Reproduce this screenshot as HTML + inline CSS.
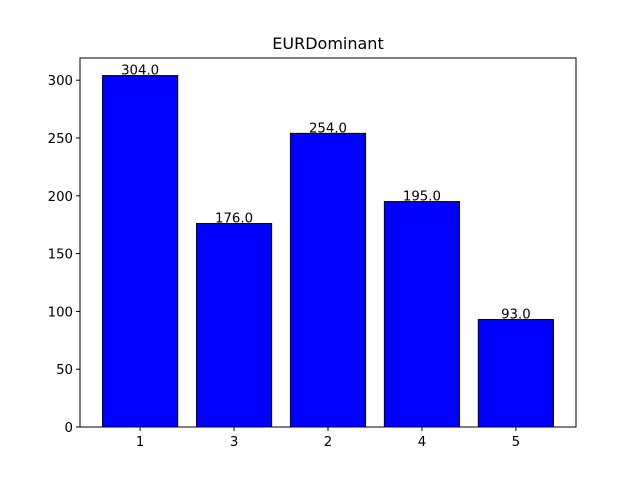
<!DOCTYPE html>
<html><head><meta charset="utf-8"><style>
body{margin:0;background:#fff;}
svg{display:block;font-family:"DejaVu Sans","Liberation Sans",sans-serif;}
</style></head><body>
<svg id="chart" width="640" height="480">
<rect width="640" height="480" fill="#fff"/>
<text x="328" y="49" font-size="16" text-anchor="middle">EURDominant</text>
</svg>
<script>
const categories = ["1","3","2","4","5"];
const values = [304, 176, 254, 195, 93];
const yTicks = [0, 50, 100, 150, 200, 250, 300];

const svg = document.getElementById('chart');
const NS = 'http://www.w3.org/2000/svg';
const L = 80, R = 576, T = 58, B = 427;
const maxV = Math.max(...values);
const yMax = maxV * 1.05;
const xMin = -0.64, xMax = categories.length - 1 + 0.64;
function xs(i){ return L + (i - xMin) / (xMax - xMin) * (R - L); }
function ys(v){ return B - v / yMax * (B - T); }
function mk(tag, attrs){ const e = document.createElementNS(NS, tag); for (const k in attrs) e.setAttribute(k, attrs[k]); svg.appendChild(e); return e; }

const bw = 0.8 * (R - L) / (xMax - xMin);
values.forEach((v, i) => {
  const cx = xs(i);
  const r = mk('rect', {x: cx - bw/2, y: ys(v), width: bw, height: B - ys(v), fill: '#0000ff', stroke: '#000', 'stroke-width': 1});
  
  
  const t = mk('text', {x: cx, y: ys(v) - 1, 'font-size': 13.3, 'text-anchor': 'middle'});
  t.textContent = v.toFixed(1);
  
  
  const tk = mk('line', {x1: cx, x2: cx, y1: B, y2: B + 4, stroke: '#000', 'stroke-width': 1});
  
  
  const tl = mk('text', {x: cx, y: B + 19, 'font-size': 13.3, 'text-anchor': 'middle'});
  tl.textContent = categories[i];
  
  
});
yTicks.forEach(v => {
  const y = ys(v);
  const tk = mk('line', {x1: L - 4, x2: L, y1: y, y2: y, stroke: '#000', 'stroke-width': 1});
  
  
  const tl = mk('text', {x: L - 7, y: y + 5, 'font-size': 13.3, 'text-anchor': 'end'});
  tl.textContent = v;
  
  
});
const frame = mk('rect', {x: L, y: T, width: R - L, height: B - T, fill: 'none', stroke: '#000', 'stroke-width': 1});


</script>
</body></html>
